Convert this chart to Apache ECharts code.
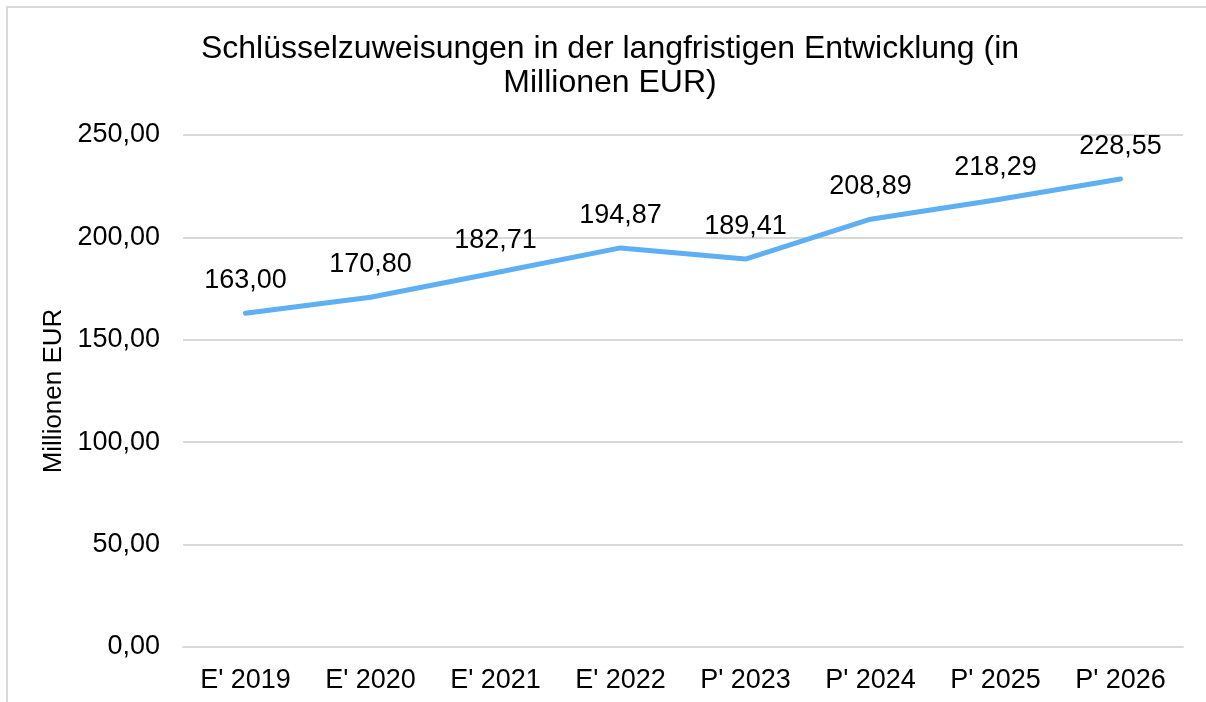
<!DOCTYPE html>
<html>
<head>
<meta charset="utf-8">
<script src="https://cdn.jsdelivr.net/npm/echarts@6/dist/echarts.min.js"></script>
<style>
  html, body { margin: 0; padding: 0; background: #fff; }
  #chart { width: 1206px; height: 702px; }
</style>
</head>
<body>
<div id="chart"></div>
<script>
// Daten
var categories = ["E' 2019", "E' 2020", "E' 2021", "E' 2022", "P' 2023", "P' 2024", "P' 2025", "P' 2026"];
var values = [163.00, 170.80, 182.71, 194.87, 189.41, 208.89, 218.29, 228.55];
var yTicks = [0, 50, 100, 150, 200, 250];

var fontFamily = 'Arial, "Liberation Sans", sans-serif';
function deFormat(v) {
    return v.toFixed(2).replace('.', ',');
}

var chart = echarts.init(document.getElementById('chart'));
var option = {
    backgroundColor: '#fff',
    animation: false,
    textStyle: { fontFamily: fontFamily },
    title: {
        text: 'Schlüsselzuweisungen in der langfristigen Entwicklung (in\nMillionen EUR)',
        left: 605,
        top: 27,
        textAlign: 'center',
        textStyle: {
            fontFamily: fontFamily,
            fontSize: 32,
            fontWeight: 'normal',
            color: '#000',
            lineHeight: 34
        }
    },
    graphic: [{
        type: 'rect',
        shape: { x: 7, y: 7, width: 1400, height: 900 },
        style: { fill: 'none', stroke: '#d9d9d9', lineWidth: 2 },
        silent: true
    }],
    grid: { left: 183, right: 23, top: 135, bottom: 55 },
    xAxis: {
        type: 'category',
        data: categories,
        axisLine: { show: true, lineStyle: { color: '#d9d9d9', width: 2 } },
        axisTick: { show: false },
        axisLabel: { color: '#000', fontSize: 27, margin: 20, fontFamily: fontFamily }
    },
    yAxis: {
        type: 'value',
        min: yTicks[0],
        max: yTicks[yTicks.length - 1],
        interval: 50,
        name: 'Millionen EUR',
        nameLocation: 'middle',
        nameGap: 109,
        nameTextStyle: { color: '#000', fontSize: 26, fontFamily: fontFamily },
        axisLine: { show: false },
        axisTick: { show: false },
        splitLine: { lineStyle: { color: '#d9d9d9', width: 2 } },
        axisLabel: {
            color: '#000',
            fontSize: 27,
            margin: 23,
            fontFamily: fontFamily,
            formatter: function (v) { return deFormat(v); }
        }
    },
    series: [{
        type: 'line',
        data: values,
        symbol: 'circle',
        symbolSize: 2,
        showSymbol: true,
        itemStyle: { color: '#5eb0f3' },
        lineStyle: { color: '#5eb0f3', width: 5, cap: 'round', join: 'round' },
        label: {
            show: true,
            position: 'top',
            distance: 18,
            color: '#000',
            fontSize: 27,
            fontFamily: fontFamily,
            formatter: function (p) { return deFormat(p.value); }
        },
        labelLayout: { hideOverlap: false }
    }]
};
chart.setOption(option);
</script>
</body>
</html>
